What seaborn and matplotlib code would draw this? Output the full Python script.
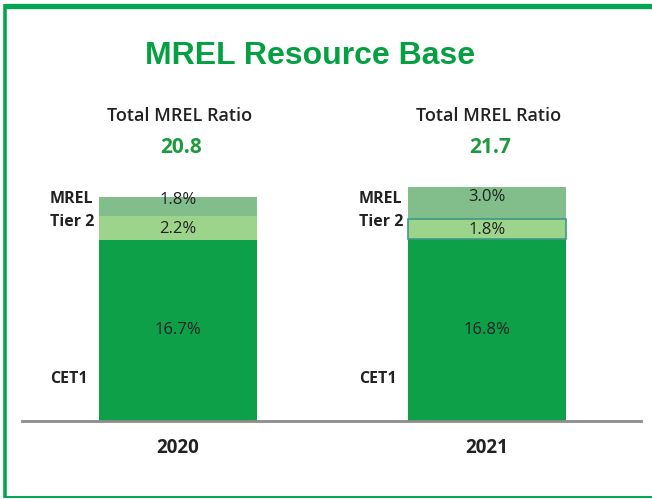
import matplotlib
matplotlib.use("Agg")
import matplotlib.pyplot as plt
from matplotlib.lines import Line2D
import pandas as pd
import seaborn as sns

years = ["2020", "2021"]
cet1 = [16.7, 16.8]
tier2 = [2.2, 1.8]
mrel = [1.8, 3.0]
total_ratio = ["20.8", "21.7"]
layer_names = ["MREL", "Tier 2", "CET1"]

GREEN_DARK = "#0DA049"
GREEN_LIGHT = "#9DD48B"
GREEN_MID = "#82BD8C"
BORDER = "#00A651"
TEXT = "#222222"

sns.set_theme(style="white")
plt.rcParams["font.family"] = ["Open Sans", "DejaVu Sans"]

df = pd.DataFrame({"year": years, "cet1": cet1, "tier2": tier2, "mrel": mrel})
df["top_t2"] = df["cet1"] + df["tier2"]
df["top_mrel"] = df["top_t2"] + df["mrel"]

fig = plt.figure(figsize=(6.52, 4.99), dpi=100)
ax = fig.add_axes([22 / 652, 78 / 499, 619 / 652, 271 / 499])

bar_w = 0.51
# stacked look: draw cumulative totals from the top layer down
for col, color in [("top_mrel", GREEN_MID), ("top_t2", GREEN_LIGHT), ("cet1", GREEN_DARK)]:
    sns.barplot(data=df, x="year", y=col, color=color, width=bar_w,
                saturation=1, ax=ax, edgecolor="none", linewidth=0)

# outline on the 2021 tier 2 segment
ax.bar(1, df.loc[1, "tier2"], bottom=df.loc[1, "cet1"], width=bar_w,
       fill=False, edgecolor="#3E9A86", linewidth=1.2, zorder=5)

ax.set_xlim(-0.505, 1.498)
ax.set_ylim(0, 25)
ax.set_xlabel("")
ax.set_ylabel("")
ax.set_yticks([])
for side in ["top", "right", "left"]:
    ax.spines[side].set_visible(False)
ax.spines["bottom"].set_color("#8C8C8C")
ax.spines["bottom"].set_linewidth(2)
ax.tick_params(axis="x", length=0, pad=12)
for lbl in ax.get_xticklabels():
    lbl.set_fontsize(13.5)
    lbl.set_fontweight("bold")
    lbl.set_color(TEXT)

for i, row in df.iterrows():
    ax.text(i, row["cet1"] / 2, f"{row['cet1']:.1f}%", ha="center", va="center",
            fontsize=12, color=TEXT)
    ax.text(i, row["cet1"] + row["tier2"] / 2 - 0.1, f"{row['tier2']:.1f}%", ha="center",
            va="center", fontsize=12, color=TEXT)
    ax.text(i, row["top_t2"] + row["mrel"] / 2 + 0.6, f"{row['mrel']:.1f}%",
            ha="center", va="center", fontsize=12, color=TEXT)
    # layer names on the left of each bar
    x0 = i - 0.415
    for name, yy in zip(layer_names, [20.45, 18.35, 3.9]):
        ax.text(x0, yy, name, ha="left", va="center", fontsize=11.5,
                fontweight="bold", color=TEXT)
    ax.text(i + 0.005, 28.1, "Total MREL Ratio", ha="center", va="center",
            fontsize=13, fontweight="semibold", color=TEXT, clip_on=False)
    ax.text(i + 0.01, 25.25, total_ratio[i], ha="center", va="center",
            fontsize=15, fontweight="bold", color="#1E9A3E", clip_on=False)

fig.text(310 / 652, 1 - 56 / 499, "MREL Resource Base", ha="center", va="center",
         fontsize=23, fontweight="bold", color="#06A043", family="Liberation Sans")

# green frame (top, left, bottom)
fig.add_artist(Line2D([5 / 652, 1], [1 - 5.5 / 499, 1 - 5.5 / 499], color=BORDER,
                      lw=3.8, transform=fig.transFigure, solid_capstyle="butt"))
fig.add_artist(Line2D([5 / 652, 5 / 652], [1 - 4 / 499, 1 / 499], color=BORDER,
                      lw=2.6, transform=fig.transFigure, solid_capstyle="butt"))
fig.add_artist(Line2D([4 / 652, 1], [2 / 499, 2 / 499], color=BORDER,
                      lw=1.4, transform=fig.transFigure, solid_capstyle="butt"))

fig.savefig("out.png", dpi=100, facecolor="white")
